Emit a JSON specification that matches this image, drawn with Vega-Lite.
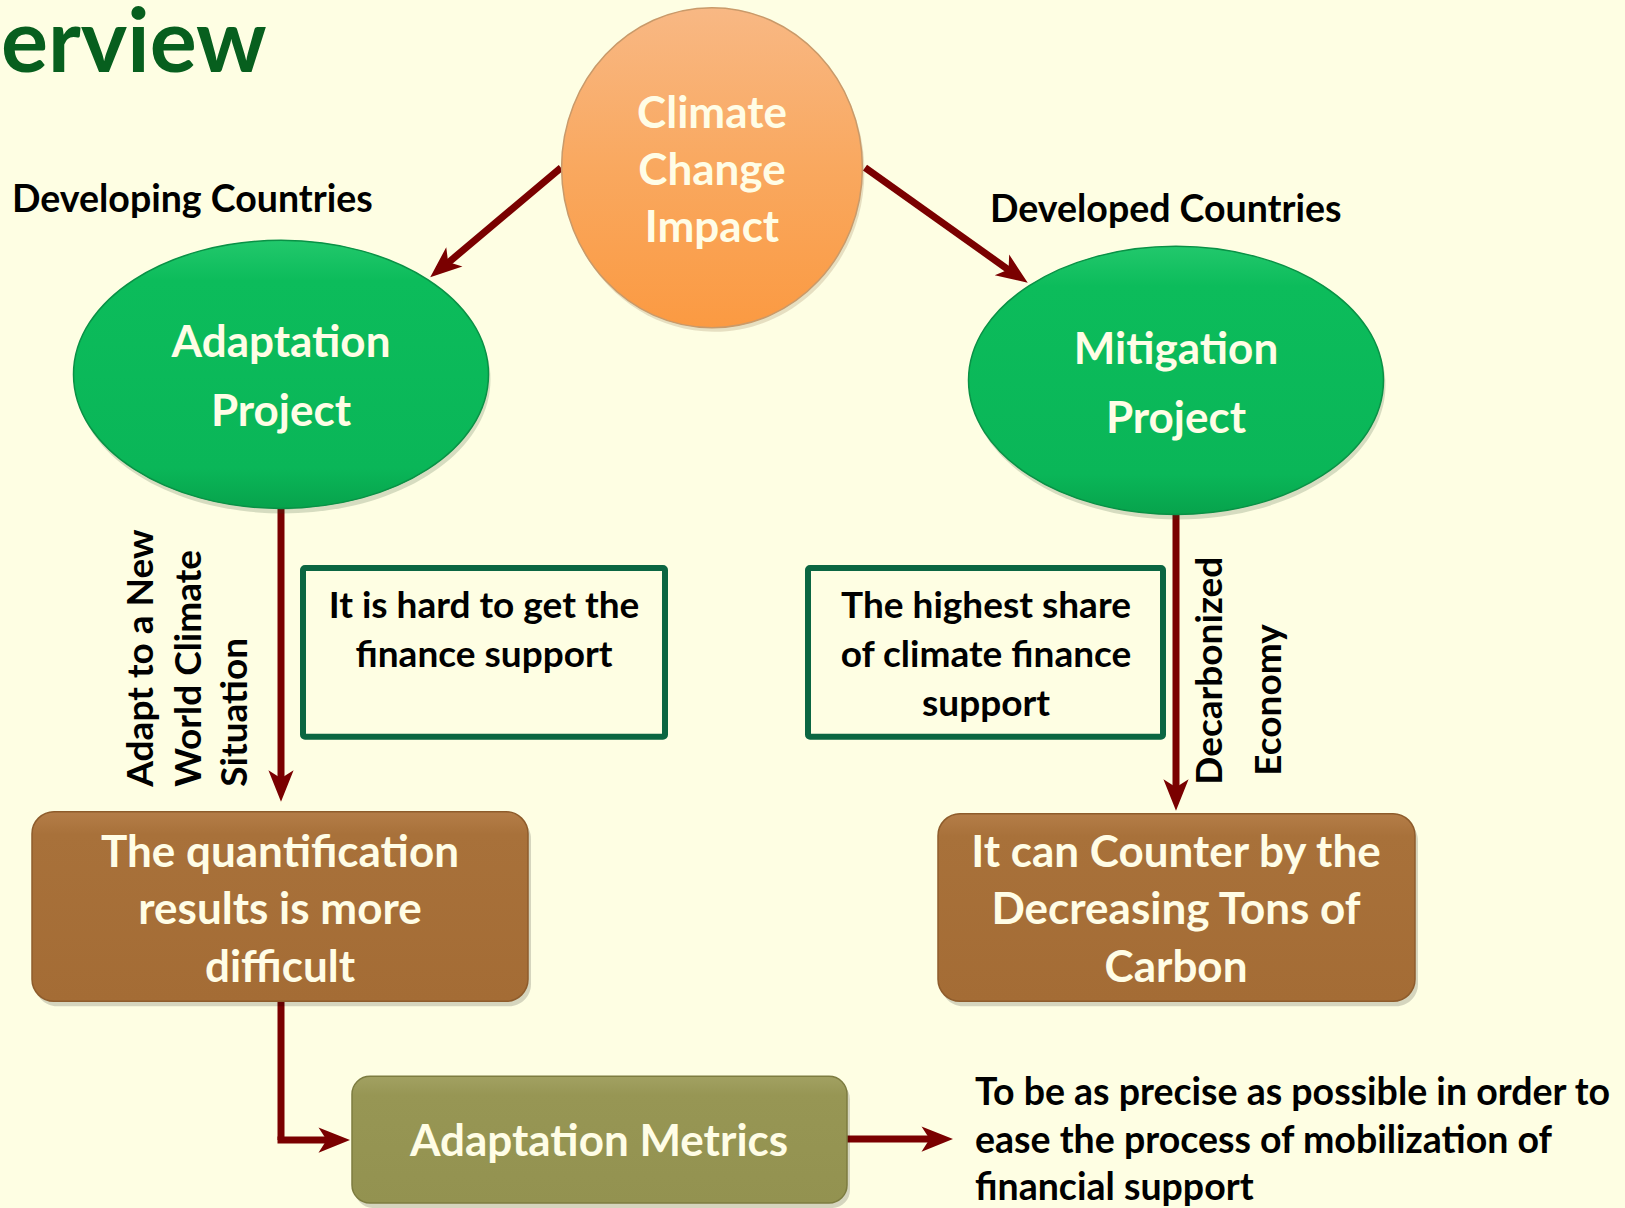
{
 "$schema": "https://vega.github.io/schema/vega-lite/v6.json",
 "width": 1625, "height": 1208,
 "autosize": {"type": "fit", "contains": "padding"},
 "padding": 0,
 "background": "#fefee3",
 "config": {"view": {"stroke": null}},
 "datasets": {
  "title": [{"x": 1, "y": 72, "label": "erview"}],
  "circle": [{"x": 712, "y": 168, "node": "Climate Change Impact"}],
  "ovals": [{"x": 281, "y": 375, "node": "Adaptation Project"}, {"x": 1176, "y": 381, "node": "Mitigation Project"}],
  "brownBoxes": [{"x": 32, "y": 813, "x2": 528, "y2": 1003, "node": "Quantification"}, {"x": 938, "y": 815, "x2": 1415, "y2": 1003, "node": "Counter"}],
  "oliveBox": [{"x": 352, "y": 1078, "x2": 847, "y2": 1205, "node": "Adaptation Metrics"}],
  "frames": [{"x": 303, "y": 569, "x2": 665, "y2": 738}, {"x": 808, "y": 569, "x2": 1163, "y2": 738}],
  "links": [
   {"x": 561, "y": 168, "x2": 446, "y2": 265},
   {"x": 865, "y": 168, "x2": 1011, "y2": 272},
   {"x": 281, "y": 500, "x2": 281, "y2": 788},
   {"x": 1176, "y": 506, "x2": 1176, "y2": 797},
   {"x": 281, "y": 1000, "x2": 281, "y2": 1142},
   {"x": 277.5, "y": 1142, "x2": 335, "y2": 1142},
   {"x": 845, "y": 1141, "x2": 938, "y2": 1141}
  ],
  "heads": [
   {"x": 444, "y": 266, "dir": 230},
   {"x": 1013, "y": 273, "dir": 125},
   {"x": 281, "y": 785, "dir": 180},
   {"x": 1176, "y": 794, "dir": 180},
   {"x": 332, "y": 1142, "dir": 90},
   {"x": 935, "y": 1141, "dir": 90}
  ],
  "whiteText": [
   {"x": 712, "y": 128, "label": "Climate"},
   {"x": 712, "y": 185, "label": "Change"},
   {"x": 712, "y": 242, "label": "Impact"},
   {"x": 281, "y": 358, "label": "Adaptation"},
   {"x": 281, "y": 427, "label": "Project"},
   {"x": 1176, "y": 365, "label": "Mitigation"},
   {"x": 1176, "y": 434, "label": "Project"},
   {"x": 280, "y": 868, "label": "The quantification"},
   {"x": 280, "y": 926, "label": "results is more"},
   {"x": 280, "y": 984, "label": "difficult"},
   {"x": 1176, "y": 868, "label": "It can Counter by the"},
   {"x": 1176, "y": 926, "label": "Decreasing Tons of"},
   {"x": 1176, "y": 984, "label": "Carbon"},
   {"x": 599, "y": 1158, "label": "Adaptation Metrics"}
  ],
  "blackCenter": [
   {"x": 484, "y": 619, "label": "It is hard to get the"},
   {"x": 484, "y": 668, "label": "finance support"},
   {"x": 986, "y": 619, "label": "The highest share"},
   {"x": 986, "y": 668, "label": "of climate finance"},
   {"x": 986, "y": 717, "label": "support"}
  ],
  "blackLeft": [
   {"x": 12, "y": 212, "label": "Developing Countries"},
   {"x": 990, "y": 222, "label": "Developed Countries"},
   {"x": 975, "y": 1107, "label": "To be as precise as possible in order to"},
   {"x": 975, "y": 1155, "label": "ease the process of mobilization of"},
   {"x": 975, "y": 1202, "label": "financial support"}
  ],
  "rotated": [
   {"x": 142, "y": 788, "label": "Adapt to a New"},
   {"x": 190, "y": 788, "label": "World Climate"},
   {"x": 236, "y": 788, "label": "Situation"},
   {"x": 1211, "y": 786, "label": "Decarbonized"},
   {"x": 1270, "y": 777, "label": "Economy"}
  ]
 },
 "encoding": {
  "x": {"field": "x", "type": "quantitative", "scale": {"domain": [0, 1625], "nice": false, "zero": false}, "axis": null},
  "y": {"field": "y", "type": "quantitative", "scale": {"domain": [0, 1208], "nice": false, "zero": false, "reverse": true}, "axis": null}
 },
 "layer": [
  {"data": {"name": "links"}, "mark": {"type": "rule", "stroke": "#7a0000", "strokeWidth": 7, "strokeCap": "butt"},
   "encoding": {"x2": {"field": "x2"}, "y2": {"field": "y2"}}},
  {"data": {"name": "brownBoxes"}, "mark": {"type": "rect", "cornerRadius": 22, "fill": "#000000", "opacity": 0.16, "xOffset": 3, "x2Offset": 3, "yOffset": 5, "y2Offset": 5},
   "encoding": {"x2": {"field": "x2"}, "y2": {"field": "y2"}}},
  {"data": {"name": "oliveBox"}, "mark": {"type": "rect", "cornerRadius": 18, "fill": "#000000", "opacity": 0.16, "xOffset": 3, "x2Offset": 3, "yOffset": 5, "y2Offset": 5},
   "encoding": {"x2": {"field": "x2"}, "y2": {"field": "y2"}}},
  {"data": {"name": "brownBoxes"}, "mark": {"type": "rect", "cornerRadius": 22, "stroke": "#8e5c2c", "strokeWidth": 1.5,
    "fill": {"gradient": "linear", "x1": 0, "y1": 0, "x2": 0, "y2": 1, "stops": [{"offset": 0, "color": "#b47d48"}, {"offset": 0.12, "color": "#a8713a"}, {"offset": 1, "color": "#a46c35"}]}},
   "encoding": {"x2": {"field": "x2"}, "y2": {"field": "y2"}}},
  {"data": {"name": "oliveBox"}, "mark": {"type": "rect", "cornerRadius": 18, "stroke": "#7d7c40", "strokeWidth": 1.5,
    "fill": {"gradient": "linear", "x1": 0, "y1": 0, "x2": 0, "y2": 1, "stops": [{"offset": 0, "color": "#a2a162"}, {"offset": 0.15, "color": "#979654"}, {"offset": 1, "color": "#939250"}]}},
   "encoding": {"x2": {"field": "x2"}, "y2": {"field": "y2"}}},
  {"data": {"name": "ovals"}, "mark": {"type": "point", "filled": true, "opacity": 0.18, "fill": "#204020", "strokeWidth": 0, "xOffset": 2, "yOffset": 5,
    "shape": "M-1,0A1,0.646,0,1,0,1,0A1,0.646,0,1,0,-1,0Z", "size": 172225}},
  {"data": {"name": "ovals"}, "mark": {"type": "point", "filled": true, "opacity": 1, "stroke": "#0a9146", "strokeWidth": 1.5,
    "fill": {"gradient": "linear", "x1": 0, "y1": 0, "x2": 0, "y2": 1, "stops": [{"offset": 0, "color": "#22c86c"}, {"offset": 0.15, "color": "#0cbc5b"}, {"offset": 0.85, "color": "#0ab658"}, {"offset": 1, "color": "#07a34c"}]},
    "shape": "M-1,0A1,0.646,0,1,0,1,0A1,0.646,0,1,0,-1,0Z", "size": 172225}},
  {"data": {"name": "circle"}, "mark": {"type": "point", "filled": true, "opacity": 0.15, "fill": "#603000", "strokeWidth": 0, "xOffset": 2, "yOffset": 4,
    "shape": "M-0.94,0A0.94,1,0,1,0,0.94,0A0.94,1,0,1,0,-0.94,0Z", "size": 102400}},
  {"data": {"name": "circle"}, "mark": {"type": "point", "filled": true, "opacity": 1, "stroke": "#c99a6a", "strokeWidth": 1.5,
    "fill": {"gradient": "linear", "x1": 0, "y1": 0, "x2": 0, "y2": 1, "stops": [{"offset": 0, "color": "#f8b884"}, {"offset": 0.5, "color": "#f9a85f"}, {"offset": 1, "color": "#fb9a42"}]},
    "shape": "M-0.94,0A0.94,1,0,1,0,0.94,0A0.94,1,0,1,0,-0.94,0Z", "size": 102400}},
  {"data": {"name": "frames"}, "mark": {"type": "rect", "fill": null, "stroke": "#0b6642", "strokeWidth": 6, "cornerRadius": 2},
   "encoding": {"x2": {"field": "x2"}, "y2": {"field": "y2"}}},
  {"data": {"name": "heads"}, "mark": {"type": "point", "filled": true, "opacity": 1, "fill": "#7a0000", "strokeWidth": 0,
    "shape": "M0,-1L0.7,0.75L0,0.3L-0.7,0.75Z", "size": 1296},
   "encoding": {"angle": {"field": "dir", "type": "quantitative", "scale": null}}},
  {"data": {"name": "title"}, "mark": {"type": "text", "font": "Lato", "fontWeight": "bold", "fontSize": 88, "fill": "#075f1e", "align": "left", "baseline": "alphabetic"},
   "encoding": {"text": {"field": "label"}}},
  {"data": {"name": "whiteText"}, "mark": {"type": "text", "font": "Lato", "fontWeight": "bold", "fontSize": 44, "fill": "#fffde6", "align": "center", "baseline": "alphabetic"},
   "encoding": {"text": {"field": "label"}}},
  {"data": {"name": "blackCenter"}, "mark": {"type": "text", "font": "Lato", "fontWeight": "bold", "fontSize": 37, "fill": "#000000", "align": "center", "baseline": "alphabetic"},
   "encoding": {"text": {"field": "label"}}},
  {"data": {"name": "blackLeft"}, "mark": {"type": "text", "font": "Lato", "fontWeight": "bold", "fontSize": 37.5, "fill": "#000000", "align": "left", "baseline": "alphabetic"},
   "encoding": {"text": {"field": "label"}}},
  {"data": {"name": "rotated"}, "mark": {"type": "text", "font": "Lato", "fontWeight": "bold", "fontSize": 37, "fill": "#000000", "align": "left", "baseline": "middle", "angle": 270},
   "encoding": {"text": {"field": "label"}}}
 ]
}
